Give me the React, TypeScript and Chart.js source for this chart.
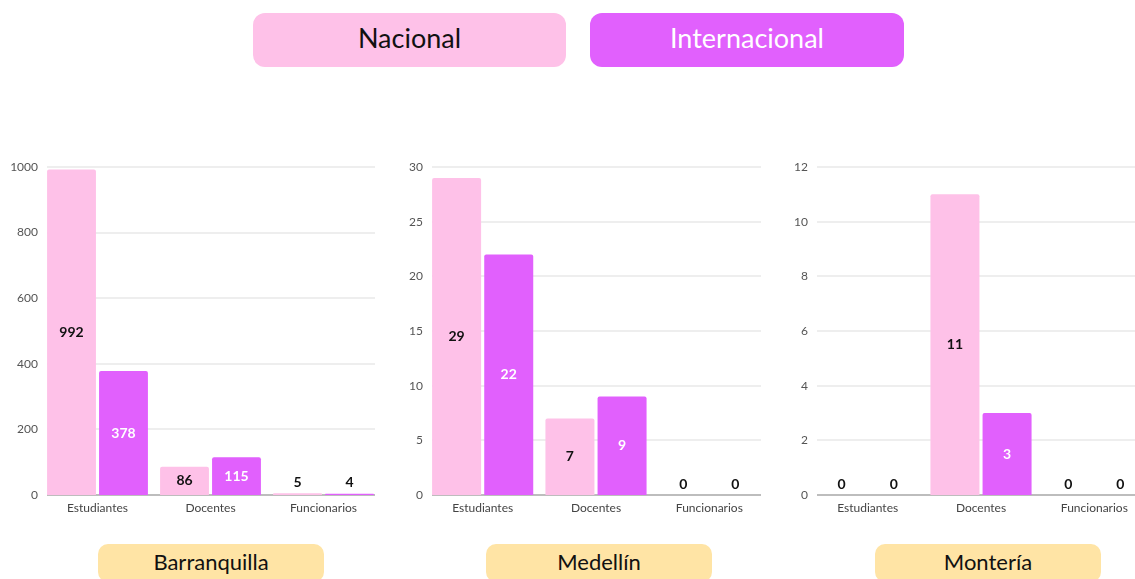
import React, { useEffect, useRef } from "react";
import { Chart, registerables } from "chart.js";

Chart.register(...registerables);

const categories = ["Estudiantes", "Docentes", "Funcionarios"];
const seriesNames = ["Nacional", "Internacional"];
const cities = ["Barranquilla", "Medellín", "Montería"];

const barranquillaNacional = [992, 86, 5];
const barranquillaInternacional = [378, 115, 4];
const medellinNacional = [29, 7, 0];
const medellinInternacional = [22, 9, 0];
const monteriaNacional = [0, 11, 0];
const monteriaInternacional = [0, 3, 0];

const yMaxes = [1000, 30, 12];
const ySteps = [200, 5, 2];

const PINK = "#FEC1E8";
const PURPLE = "#E160FD";
const YELLOW = "#FFE4A5";
const FONT = "Lato, 'Open Sans', sans-serif";

const gridPlugin = {
  id: "customGrid",
  beforeDatasetsDraw(chart: any) {
    const { ctx, chartArea, scales } = chart;
    const y = scales.y;
    ctx.save();
    y.ticks.forEach((t: any) => {
      const py = Math.round(y.getPixelForValue(t.value));
      ctx.strokeStyle = t.value === 0 ? "#bdbdbd" : "#e8e8e8";
      ctx.lineWidth = t.value === 0 ? 2 : 1.5;
      ctx.beginPath();
      ctx.moveTo(chartArea.left + 6, py);
      ctx.lineTo(chartArea.right - 5, py);
      ctx.stroke();
    });
    ctx.restore();
  },
};

const labelPlugin = {
  id: "barLabels",
  afterDatasetsDraw(chart: any) {
    const { ctx } = chart;
    ctx.save();
    ctx.font = `bold 14px ${FONT}`;
    ctx.textAlign = "center";
    ctx.textBaseline = "middle";
    chart.data.datasets.forEach((ds: any, di: number) => {
      const meta = chart.getDatasetMeta(di);
      meta.data.forEach((bar: any, i: number) => {
        const v = ds.data[i];
        const h = bar.base - bar.y;
        if (h > 20) {
          ctx.fillStyle = di === 0 ? "#111" : "#fff";
          ctx.fillText(String(v), bar.x, (bar.y + bar.base) / 2);
        } else {
          ctx.fillStyle = "#111";
          ctx.fillText(String(v), bar.x, bar.y - 11);
        }
      });
    });
    ctx.restore();
  },
};

function Panel(props: {
  nacional: number[];
  internacional: number[];
  max: number;
  step: number;
  left: number;
  yWidth: number;
}) {
  const ref = useRef<HTMLCanvasElement | null>(null);
  useEffect(() => {
    if (!ref.current) return;
    const chart = new Chart(ref.current, {
      type: "bar",
      data: {
        labels: categories,
        datasets: [
          {
            label: seriesNames[0],
            data: props.nacional,
            backgroundColor: PINK,
            borderRadius: { topLeft: 2, topRight: 2, bottomLeft: 0, bottomRight: 0 },
            borderSkipped: "bottom",
            categoryPercentage: 0.92,
            barPercentage: 0.94,
          },
          {
            label: seriesNames[1],
            data: props.internacional,
            backgroundColor: PURPLE,
            borderRadius: { topLeft: 2, topRight: 2, bottomLeft: 0, bottomRight: 0 },
            borderSkipped: "bottom",
            categoryPercentage: 0.92,
            barPercentage: 0.94,
          },
        ],
      },
      options: {
        responsive: false,
        animation: false,
        layout: { padding: { top: 17, left: 0, right: 0, bottom: 0 } },
        plugins: { legend: { display: false }, tooltip: { enabled: false } },
        scales: {
          x: {
            grid: { display: false, drawTicks: false },
            border: { display: false },
            ticks: {
              color: "#444",
              font: { family: FONT, size: 12 },
              padding: 6,
              maxRotation: 0,
            },
            afterFit: (s: any) => {
              s.height = 35;
            },
          },
          y: {
            min: 0,
            max: props.max,
            grid: { display: false, drawTicks: false },
            border: { display: false },
            ticks: {
              stepSize: props.step,
              color: "#555",
              font: { family: FONT, size: 12 },
              padding: 3,
              callback: (v: any) => String(v),
            },
            afterFit: (s: any) => {
              s.width = props.yWidth;
            },
          },
        },
      },
      plugins: [gridPlugin, labelPlugin],
    } as any);
    return () => chart.destroy();
  }, []);
  return (
    <div style={{ position: "absolute", left: props.left, top: 150, width: 380, height: 380 }}>
      <canvas ref={ref} width={380} height={380} style={{ display: "block" }} />
    </div>
  );
}

const boxText: React.CSSProperties = {
  position: "absolute",
  display: "flex",
  alignItems: "center",
  justifyContent: "center",
  fontFamily: FONT,
  boxSizing: "border-box",
};

export default function App() {
  const cityLefts = [98, 486, 875];
  return (
    <div
      style={{
        position: "absolute",
        left: 0,
        top: 0,
        width: 1135,
        height: 579,
        overflow: "hidden",
        background: "#fff",
      }}
    >
      <div
        style={{
          ...boxText,
          left: 253,
          top: 13,
          width: 313,
          height: 54,
          background: PINK,
          borderRadius: 12,
          color: "#111",
          fontSize: 27,
          paddingBottom: 6,
        }}
      >
        {seriesNames[0]}
      </div>
      <div
        style={{
          ...boxText,
          left: 590,
          top: 13,
          width: 314,
          height: 54,
          background: PURPLE,
          borderRadius: 12,
          color: "#fff",
          fontSize: 27,
          paddingBottom: 6,
        }}
      >
        {seriesNames[1]}
      </div>
      <Panel nacional={barranquillaNacional} internacional={barranquillaInternacional} max={yMaxes[0]} step={ySteps[0]} left={0} yWidth={41} />
      <Panel nacional={medellinNacional} internacional={medellinInternacional} max={yMaxes[1]} step={ySteps[1]} left={386} yWidth={40} />
      <Panel nacional={monteriaNacional} internacional={monteriaInternacional} max={yMaxes[2]} step={ySteps[2]} left={771} yWidth={40} />
      {cities.map((c, i) => (
        <div
          key={c}
          style={{
            ...boxText,
            left: cityLefts[i],
            top: 544,
            width: 226,
            height: 38,
            background: YELLOW,
            borderRadius: 10,
            color: "#111",
            fontSize: 22,
            paddingBottom: 4,
          }}
        >
          {c}
        </div>
      ))}
    </div>
  );
}
